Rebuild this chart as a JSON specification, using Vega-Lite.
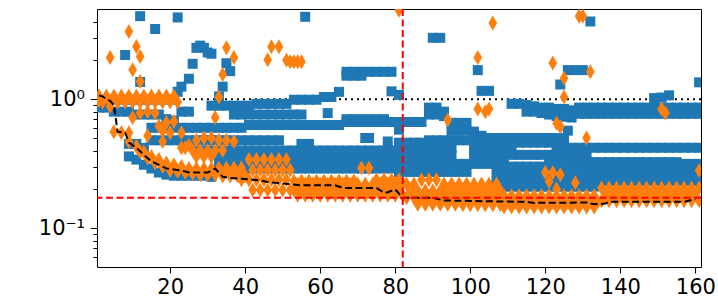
{
"$schema":"https://vega.github.io/schema/vega-lite/v6.json",
"width":604,"height":258,
"autosize":{"type":"none"},
"padding":{"left":97,"top":9,"right":17,"bottom":37},
"background":"white",
"config":{"view":{"stroke":"black","strokeWidth":1},"axis":{"grid":false,"domain":false,"labelFont":"DejaVu Sans","labelFontSize":21,"labelColor":"black","tickColor":"black","tickWidth":1,"title":null}},
"datasets":{
"blue":[
{"x":1,"y":0.99},{"x":3,"y":0.99},{"x":5,"y":0.99},{"x":7,"y":0.99},{"x":9,"y":0.99},{"x":11,"y":0.99},{"x":13,"y":0.99},{"x":15,"y":0.99},{"x":17,"y":0.99},{"x":19,"y":0.99},{"x":21,"y":0.99},
{"x":1,"y":0.86},{"x":3,"y":0.86},{"x":5,"y":0.8},{"x":7,"y":0.8},{"x":9,"y":0.8},
{"x":22,"y":1.14},{"x":23,"y":1.25},{"x":25,"y":1.44},{"x":26,"y":1.88},{"x":27,"y":2.5},{"x":28,"y":2.6},{"x":29,"y":2.5},{"x":30,"y":2.3},{"x":31,"y":2.25},
{"x":33,"y":1.05},{"x":34,"y":1.25},{"x":35,"y":1.9},{"x":36,"y":1.65},
{"x":8,"y":2.2},{"x":12,"y":4.4},{"x":16,"y":3.5},{"x":22,"y":4.3},{"x":12,"y":1.36},{"x":56,"y":4.35},{"x":90,"y":2.99},{"x":92,"y":2.99},{"x":102,"y":1.68},{"x":103,"y":1.16},{"x":105,"y":1.16},{"x":124,"y":1.3},{"x":126,"y":1.68},{"x":128,"y":1.68},{"x":130,"y":1.68},{"x":132,"y":4.0},{"x":126,"y":0.57},{"x":149,"y":1.02},{"x":151,"y":1.03},{"x":153,"y":1.07},{"x":161,"y":1.35},{"x":62,"y":0.78},{"x":72,"y":0.5},{"x":73,"y":0.5},{"x":78,"y":0.47},{"x":79,"y":1.15},{"x":81,"y":1.08},
{"x":11,"y":0.76},{"x":13,"y":0.76},{"x":15,"y":0.76},{"x":17,"y":0.76},{"x":19,"y":0.7},{"x":21,"y":0.68},
{"x":15,"y":0.6},{"x":17,"y":0.6},{"x":19,"y":0.6},{"x":21,"y":0.6},{"x":23,"y":0.6},{"x":25,"y":0.6},
{"x":23,"y":0.8},{"x":25,"y":0.8},
{"x":15,"y":0.48},{"x":17,"y":0.48},{"x":19,"y":0.48},{"x":21,"y":0.48},{"x":23,"y":0.48},{"x":25,"y":0.48},
{"x":9,"y":0.36},{"x":11,"y":0.34},{"x":13,"y":0.31},{"x":15,"y":0.29},{"x":17,"y":0.27},{"x":19,"y":0.26},{"x":21,"y":0.255},{"x":23,"y":0.255},{"x":25,"y":0.255},{"x":27,"y":0.255},{"x":29,"y":0.255},{"x":31,"y":0.25},
{"x":9,"y":0.45},{"x":11,"y":0.45},{"x":13,"y":0.42},
{"x":31,"y":0.89},{"x":33,"y":0.89},{"x":35,"y":0.89},{"x":37,"y":0.89},{"x":39,"y":0.89},{"x":41,"y":0.89},{"x":43,"y":0.92},{"x":45,"y":0.92},{"x":47,"y":0.92},{"x":49,"y":0.92},{"x":51,"y":0.92},{"x":53,"y":0.99},{"x":55,"y":0.99},{"x":57,"y":0.99},{"x":59,"y":0.99},{"x":61,"y":1.04},{"x":63,"y":1.04},{"x":65,"y":1.14},
{"x":67,"y":1.63},{"x":67,"y":1.52},{"x":69,"y":1.63},{"x":69,"y":1.52},{"x":71,"y":1.63},{"x":71,"y":1.52},{"x":73,"y":1.63},{"x":75,"y":1.63},{"x":77,"y":1.63},{"x":79,"y":1.63},
{"x":37,"y":0.76},{"x":39,"y":0.76},{"x":41,"y":0.76},{"x":43,"y":0.76},{"x":45,"y":0.76},{"x":47,"y":0.76},{"x":49,"y":0.76},{"x":51,"y":0.76},{"x":53,"y":0.76},{"x":55,"y":0.76},
{"x":27,"y":0.6},{"x":29,"y":0.6},{"x":31,"y":0.6},{"x":33,"y":0.6},{"x":35,"y":0.6},{"x":37,"y":0.6},{"x":39,"y":0.6},{"x":41,"y":0.63},{"x":43,"y":0.63},{"x":45,"y":0.63},{"x":47,"y":0.63},{"x":49,"y":0.63},{"x":51,"y":0.63},{"x":53,"y":0.63},{"x":55,"y":0.63},{"x":57,"y":0.63},{"x":59,"y":0.63},{"x":61,"y":0.63},{"x":63,"y":0.63},{"x":65,"y":0.63},{"x":67,"y":0.7},{"x":69,"y":0.7},{"x":71,"y":0.7},{"x":73,"y":0.7},{"x":75,"y":0.7},{"x":77,"y":0.7},
{"x":67,"y":0.665},{"x":69,"y":0.665},{"x":71,"y":0.665},{"x":73,"y":0.665},{"x":75,"y":0.665},{"x":77,"y":0.665},{"x":79,"y":0.665},
{"x":27,"y":0.48},{"x":29,"y":0.48},{"x":31,"y":0.48},{"x":33,"y":0.48},{"x":35,"y":0.48},{"x":37,"y":0.48},{"x":39,"y":0.48},{"x":41,"y":0.48},{"x":43,"y":0.48},{"x":45,"y":0.48},{"x":47,"y":0.48},{"x":49,"y":0.48},{"x":55,"y":0.45},{"x":57,"y":0.45},
{"x":27,"y":0.4},{"x":29,"y":0.4},{"x":31,"y":0.4},{"x":33,"y":0.4},{"x":35,"y":0.4},{"x":37,"y":0.4},{"x":39,"y":0.4},{"x":41,"y":0.4},{"x":43,"y":0.4},{"x":45,"y":0.4},{"x":47,"y":0.4},{"x":49,"y":0.4},{"x":51,"y":0.4},{"x":53,"y":0.4},{"x":55,"y":0.4},{"x":57,"y":0.4},{"x":59,"y":0.4},{"x":61,"y":0.4},{"x":63,"y":0.4},{"x":65,"y":0.4},{"x":67,"y":0.4},{"x":69,"y":0.4},{"x":71,"y":0.4},{"x":73,"y":0.4},{"x":75,"y":0.4},{"x":77,"y":0.4},{"x":79,"y":0.4},{"x":81,"y":0.4},
{"x":33,"y":0.34},{"x":35,"y":0.34},{"x":37,"y":0.34},{"x":39,"y":0.34},{"x":41,"y":0.34},{"x":43,"y":0.34},{"x":45,"y":0.34},{"x":47,"y":0.34},{"x":49,"y":0.34},{"x":51,"y":0.34},{"x":53,"y":0.34},{"x":55,"y":0.34},{"x":57,"y":0.34},{"x":59,"y":0.34},{"x":61,"y":0.34},{"x":63,"y":0.34},{"x":65,"y":0.34},{"x":67,"y":0.34},{"x":69,"y":0.34},{"x":71,"y":0.34},{"x":73,"y":0.34},{"x":75,"y":0.34},{"x":77,"y":0.34},{"x":79,"y":0.34},{"x":81,"y":0.34},
{"x":33,"y":0.29},{"x":35,"y":0.29},{"x":37,"y":0.29},{"x":39,"y":0.29},{"x":41,"y":0.29},{"x":43,"y":0.29},{"x":45,"y":0.29},{"x":47,"y":0.29},{"x":49,"y":0.29},{"x":51,"y":0.29},{"x":53,"y":0.29},{"x":55,"y":0.29},{"x":57,"y":0.29},{"x":59,"y":0.29},{"x":61,"y":0.29},{"x":63,"y":0.29},{"x":65,"y":0.29},{"x":67,"y":0.29},{"x":69,"y":0.29},{"x":71,"y":0.29},{"x":73,"y":0.29},{"x":75,"y":0.29},{"x":77,"y":0.29},{"x":79,"y":0.29},{"x":81,"y":0.29},
{"x":81,"y":0.665},{"x":83,"y":0.665},{"x":85,"y":0.665},{"x":87,"y":0.665},{"x":89,"y":0.86},{"x":91,"y":0.86},{"x":93,"y":0.8},{"x":95,"y":0.655},{"x":97,"y":0.655},{"x":99,"y":0.655},{"x":101,"y":0.56},{"x":103,"y":0.52},{"x":105,"y":0.5},{"x":107,"y":0.5},
{"x":81,"y":0.58},{"x":89,"y":0.76},{"x":91,"y":0.76},{"x":93,"y":0.74},{"x":95,"y":0.57},{"x":97,"y":0.57},{"x":99,"y":0.57},
{"x":111,"y":0.92},{"x":113,"y":0.92},{"x":115,"y":0.9},{"x":117,"y":0.88},{"x":119,"y":0.86},{"x":121,"y":0.86},{"x":123,"y":0.84},{"x":125,"y":0.84},{"x":127,"y":0.82},{"x":129,"y":0.86},{"x":131,"y":0.86},{"x":133,"y":0.86},{"x":135,"y":0.86},{"x":137,"y":0.86},{"x":139,"y":0.86},{"x":141,"y":0.86},{"x":143,"y":0.86},{"x":145,"y":0.86},{"x":147,"y":0.86},{"x":149,"y":0.86},{"x":151,"y":0.86},{"x":153,"y":0.86},{"x":155,"y":0.86},{"x":157,"y":0.86},{"x":159,"y":0.86},{"x":161,"y":0.86},
{"x":115,"y":0.8},{"x":117,"y":0.8},{"x":119,"y":0.78},{"x":121,"y":0.76},{"x":123,"y":0.74},{"x":125,"y":0.73},{"x":127,"y":0.72},{"x":129,"y":0.77},{"x":131,"y":0.77},{"x":133,"y":0.77},{"x":135,"y":0.77},{"x":137,"y":0.77},{"x":139,"y":0.77},{"x":141,"y":0.77},{"x":143,"y":0.77},{"x":145,"y":0.77},{"x":147,"y":0.77},{"x":149,"y":0.77},{"x":151,"y":0.77},{"x":153,"y":0.77},{"x":155,"y":0.77},{"x":157,"y":0.77},{"x":159,"y":0.77},{"x":161,"y":0.77},
{"x":81,"y":0.46},{"x":83,"y":0.46},{"x":85,"y":0.46},{"x":87,"y":0.46},{"x":89,"y":0.48},{"x":91,"y":0.48},{"x":93,"y":0.48},{"x":95,"y":0.48},{"x":97,"y":0.48},{"x":99,"y":0.48},{"x":101,"y":0.48},{"x":103,"y":0.48},{"x":105,"y":0.48},{"x":107,"y":0.48},{"x":109,"y":0.5},{"x":111,"y":0.5},{"x":113,"y":0.5},{"x":115,"y":0.5},{"x":117,"y":0.5},{"x":119,"y":0.5},{"x":121,"y":0.5},{"x":123,"y":0.5},{"x":125,"y":0.5},
{"x":81,"y":0.42},{"x":83,"y":0.42},{"x":85,"y":0.42},{"x":87,"y":0.42},{"x":89,"y":0.42},{"x":91,"y":0.42},{"x":93,"y":0.42},{"x":95,"y":0.42},{"x":101,"y":0.42},{"x":103,"y":0.42},{"x":105,"y":0.42},{"x":107,"y":0.42},{"x":109,"y":0.42},{"x":111,"y":0.42},{"x":113,"y":0.46},{"x":115,"y":0.46},{"x":117,"y":0.46},{"x":119,"y":0.46},{"x":121,"y":0.46},{"x":123,"y":0.42},{"x":125,"y":0.42},{"x":127,"y":0.42},{"x":129,"y":0.42},{"x":131,"y":0.42},{"x":133,"y":0.42},{"x":135,"y":0.42},{"x":137,"y":0.42},{"x":139,"y":0.42},{"x":141,"y":0.42},{"x":143,"y":0.42},{"x":145,"y":0.42},{"x":147,"y":0.42},{"x":149,"y":0.42},{"x":151,"y":0.42},{"x":153,"y":0.42},{"x":155,"y":0.42},{"x":157,"y":0.42},{"x":159,"y":0.42},{"x":161,"y":0.42},
{"x":81,"y":0.37},{"x":83,"y":0.37},{"x":85,"y":0.37},{"x":87,"y":0.37},{"x":89,"y":0.37},{"x":91,"y":0.37},{"x":93,"y":0.37},{"x":95,"y":0.37},{"x":101,"y":0.37},{"x":103,"y":0.37},{"x":105,"y":0.37},{"x":107,"y":0.37},{"x":109,"y":0.37},{"x":111,"y":0.37},{"x":113,"y":0.37},{"x":115,"y":0.37},{"x":117,"y":0.37},{"x":119,"y":0.37},{"x":121,"y":0.37},{"x":123,"y":0.37},{"x":125,"y":0.37},{"x":127,"y":0.37},{"x":129,"y":0.37},{"x":131,"y":0.37},
{"x":81,"y":0.315},{"x":83,"y":0.315},{"x":85,"y":0.315},{"x":87,"y":0.315},{"x":89,"y":0.315},{"x":91,"y":0.315},{"x":93,"y":0.315},{"x":95,"y":0.315},{"x":97,"y":0.315},{"x":99,"y":0.315},{"x":101,"y":0.315},{"x":103,"y":0.315},{"x":105,"y":0.315},{"x":107,"y":0.315},{"x":109,"y":0.315},{"x":111,"y":0.3},{"x":113,"y":0.3},{"x":115,"y":0.3},{"x":117,"y":0.3},{"x":119,"y":0.3},{"x":121,"y":0.315},{"x":123,"y":0.315},{"x":125,"y":0.315},{"x":127,"y":0.315},{"x":129,"y":0.315},{"x":131,"y":0.315},{"x":133,"y":0.325},{"x":135,"y":0.325},{"x":137,"y":0.325},{"x":139,"y":0.325},{"x":141,"y":0.325},{"x":143,"y":0.325},{"x":145,"y":0.325},{"x":147,"y":0.325},{"x":149,"y":0.325},{"x":151,"y":0.325},{"x":153,"y":0.325},{"x":155,"y":0.325},{"x":157,"y":0.315},{"x":159,"y":0.315},{"x":161,"y":0.315},
{"x":81,"y":0.273},{"x":83,"y":0.273},{"x":85,"y":0.273},{"x":87,"y":0.273},{"x":89,"y":0.273},{"x":91,"y":0.273},{"x":93,"y":0.273},{"x":95,"y":0.273},{"x":97,"y":0.273},{"x":99,"y":0.273},{"x":107,"y":0.273},{"x":109,"y":0.273},{"x":111,"y":0.273},{"x":113,"y":0.273},{"x":115,"y":0.273},{"x":117,"y":0.273},{"x":119,"y":0.273},{"x":121,"y":0.273},{"x":123,"y":0.273},{"x":125,"y":0.273},{"x":127,"y":0.273},{"x":129,"y":0.273},{"x":131,"y":0.273},{"x":133,"y":0.273},{"x":135,"y":0.273},{"x":137,"y":0.273},{"x":139,"y":0.273},{"x":141,"y":0.273},{"x":143,"y":0.273},{"x":145,"y":0.273},{"x":147,"y":0.273},{"x":149,"y":0.273},{"x":151,"y":0.273},{"x":153,"y":0.273},{"x":155,"y":0.273},{"x":157,"y":0.273},{"x":159,"y":0.273},{"x":161,"y":0.273},
{"x":107,"y":0.232},{"x":109,"y":0.232},{"x":111,"y":0.232},{"x":113,"y":0.232},{"x":115,"y":0.232},{"x":117,"y":0.232},{"x":119,"y":0.232},{"x":121,"y":0.232},{"x":123,"y":0.232},{"x":125,"y":0.232},{"x":127,"y":0.232},{"x":129,"y":0.232},{"x":131,"y":0.232},{"x":133,"y":0.232},{"x":135,"y":0.232},{"x":137,"y":0.232},{"x":139,"y":0.232},{"x":141,"y":0.232},{"x":143,"y":0.232},{"x":145,"y":0.232},{"x":147,"y":0.232},{"x":149,"y":0.232},{"x":151,"y":0.232},{"x":153,"y":0.232},{"x":155,"y":0.232},{"x":157,"y":0.232},{"x":159,"y":0.232},{"x":161,"y":0.232},
{"x":107,"y":0.21},{"x":109,"y":0.21},{"x":111,"y":0.21},{"x":113,"y":0.21},{"x":115,"y":0.21},{"x":117,"y":0.21},{"x":119,"y":0.21},{"x":121,"y":0.21},{"x":123,"y":0.21},{"x":125,"y":0.21},{"x":127,"y":0.21},{"x":129,"y":0.21},{"x":131,"y":0.21},{"x":133,"y":0.21}
],
"orange":[
{"x":1,"y":1.06},{"x":3,"y":1.06},{"x":5,"y":1.06},{"x":7,"y":1.06},{"x":9,"y":1.06},{"x":11,"y":1.06},{"x":13,"y":1.06},{"x":15,"y":1.06},{"x":17,"y":1.06},{"x":19,"y":1.06},{"x":21,"y":1.06},
{"x":2,"y":0.95},{"x":4,"y":0.95},{"x":6,"y":0.95},{"x":8,"y":0.95},{"x":10,"y":0.95},{"x":12,"y":0.95},{"x":14,"y":0.95},{"x":16,"y":0.95},{"x":18,"y":0.95},{"x":20,"y":0.95},{"x":22,"y":0.95},{"x":1,"y":0.97},
{"x":5,"y":0.56},{"x":7,"y":0.55},{"x":9,"y":0.55},{"x":9,"y":0.47},{"x":11,"y":0.43},{"x":13,"y":0.39},{"x":15,"y":0.36},{"x":17,"y":0.34},{"x":19,"y":0.32},{"x":21,"y":0.31},{"x":23,"y":0.3},{"x":25,"y":0.29},{"x":27,"y":0.29},{"x":29,"y":0.29},{"x":31,"y":0.29},
{"x":12,"y":0.39},{"x":14,"y":0.35},{"x":16,"y":0.32},{"x":18,"y":0.3},{"x":20,"y":0.28},{"x":22,"y":0.275},{"x":24,"y":0.27},{"x":26,"y":0.265},{"x":28,"y":0.26},{"x":30,"y":0.26},{"x":32,"y":0.26},
{"x":10,"y":0.72},{"x":12,"y":0.78},{"x":14,"y":0.8},{"x":16,"y":0.78},{"x":14,"y":0.52},{"x":17,"y":0.62},{"x":18,"y":0.57},{"x":18,"y":0.47},{"x":19,"y":0.66},{"x":20,"y":0.55},{"x":21,"y":0.67},{"x":23,"y":0.55},{"x":24,"y":0.42},{"x":4,"y":0.88},
{"x":23,"y":0.42},{"x":25,"y":0.44},{"x":27,"y":0.48},{"x":29,"y":0.5},{"x":31,"y":0.5},{"x":33,"y":0.48},{"x":35,"y":0.48},{"x":37,"y":0.47},
{"x":26,"y":0.4},{"x":28,"y":0.4},{"x":30,"y":0.4},{"x":32,"y":0.4},{"x":34,"y":0.4},{"x":27,"y":0.36},{"x":29,"y":0.36},{"x":31,"y":0.36},
{"x":4,"y":2.1},{"x":9,"y":3.34},{"x":11,"y":2.56},{"x":12,"y":2.14},{"x":10,"y":1.69},{"x":12,"y":1.37},{"x":35,"y":2.5},{"x":37,"y":2.1},{"x":34,"y":1.55},{"x":33,"y":1.04},{"x":32,"y":0.72},{"x":46,"y":2.02},{"x":47,"y":2.55},{"x":49,"y":2.55},{"x":51,"y":2.0},{"x":52,"y":1.95},{"x":53,"y":1.95},{"x":54,"y":1.95},{"x":55,"y":1.95},
{"x":33,"y":0.293},{"x":35,"y":0.293},{"x":37,"y":0.293},{"x":39,"y":0.293},{"x":41,"y":0.34},{"x":43,"y":0.34},{"x":45,"y":0.34},{"x":47,"y":0.34},{"x":49,"y":0.34},{"x":51,"y":0.34},{"x":53,"y":0.232},{"x":55,"y":0.232},{"x":57,"y":0.232},{"x":59,"y":0.232},{"x":61,"y":0.232},{"x":63,"y":0.232},{"x":65,"y":0.232},{"x":67,"y":0.232},{"x":69,"y":0.232},{"x":71,"y":0.293},{"x":73,"y":0.293},{"x":75,"y":0.237},{"x":77,"y":0.237},{"x":79,"y":0.237},{"x":81,"y":0.237},
{"x":34,"y":0.254},{"x":36,"y":0.254},{"x":38,"y":0.254},{"x":40,"y":0.254},{"x":42,"y":0.283},{"x":44,"y":0.283},{"x":46,"y":0.283},{"x":48,"y":0.283},{"x":50,"y":0.283},{"x":52,"y":0.283},{"x":54,"y":0.22},{"x":56,"y":0.22},{"x":58,"y":0.22},{"x":60,"y":0.22},{"x":62,"y":0.22},{"x":64,"y":0.22},{"x":66,"y":0.22},{"x":68,"y":0.22},{"x":70,"y":0.22},{"x":72,"y":0.22},{"x":74,"y":0.22},{"x":76,"y":0.22},{"x":78,"y":0.22},{"x":80,"y":0.22},{"x":82,"y":0.22},
{"x":39,"y":0.237},{"x":41,"y":0.237},{"x":43,"y":0.237},{"x":45,"y":0.237},{"x":47,"y":0.237},{"x":49,"y":0.237},{"x":51,"y":0.237},{"x":53,"y":0.198},{"x":55,"y":0.198},{"x":57,"y":0.198},{"x":59,"y":0.198},{"x":61,"y":0.198},{"x":63,"y":0.198},{"x":65,"y":0.198},{"x":67,"y":0.198},{"x":69,"y":0.198},{"x":71,"y":0.198},{"x":73,"y":0.198},{"x":75,"y":0.198},{"x":77,"y":0.198},{"x":79,"y":0.198},{"x":81,"y":0.198},
{"x":42,"y":0.198},{"x":44,"y":0.198},{"x":46,"y":0.198},{"x":48,"y":0.198},{"x":50,"y":0.198},{"x":52,"y":0.198},{"x":54,"y":0.18},{"x":56,"y":0.18},{"x":58,"y":0.18},{"x":60,"y":0.18},{"x":62,"y":0.18},{"x":64,"y":0.18},{"x":66,"y":0.18},{"x":68,"y":0.18},{"x":70,"y":0.18},{"x":72,"y":0.18},{"x":74,"y":0.18},{"x":76,"y":0.18},{"x":78,"y":0.18},{"x":80,"y":0.18},{"x":82,"y":0.18},
{"x":83,"y":0.22},{"x":85,"y":0.22},{"x":87,"y":0.237},{"x":89,"y":0.237},{"x":91,"y":0.237},{"x":93,"y":0.22},{"x":95,"y":0.22},{"x":97,"y":0.22},{"x":99,"y":0.22},{"x":101,"y":0.22},{"x":103,"y":0.22},{"x":105,"y":0.22},{"x":107,"y":0.22},
{"x":84,"y":0.195},{"x":86,"y":0.195},{"x":88,"y":0.195},{"x":90,"y":0.195},{"x":92,"y":0.195},{"x":94,"y":0.195},{"x":96,"y":0.195},{"x":98,"y":0.195},{"x":100,"y":0.195},{"x":102,"y":0.195},{"x":104,"y":0.195},{"x":106,"y":0.195},{"x":108,"y":0.195},
{"x":83,"y":0.172},{"x":85,"y":0.172},{"x":87,"y":0.172},{"x":89,"y":0.172},{"x":91,"y":0.172},{"x":93,"y":0.172},{"x":95,"y":0.172},{"x":97,"y":0.172},{"x":99,"y":0.172},{"x":101,"y":0.172},{"x":103,"y":0.172},{"x":105,"y":0.172},{"x":107,"y":0.172},
{"x":86,"y":0.153},{"x":88,"y":0.153},{"x":90,"y":0.153},{"x":92,"y":0.153},{"x":94,"y":0.153},{"x":96,"y":0.153},{"x":98,"y":0.152},{"x":100,"y":0.152},{"x":102,"y":0.152},{"x":104,"y":0.152},{"x":106,"y":0.152},{"x":108,"y":0.152},
{"x":109,"y":0.178},{"x":111,"y":0.178},{"x":113,"y":0.178},{"x":115,"y":0.178},{"x":117,"y":0.178},{"x":119,"y":0.178},{"x":121,"y":0.178},{"x":123,"y":0.178},{"x":125,"y":0.178},{"x":127,"y":0.178},{"x":129,"y":0.178},{"x":131,"y":0.178},{"x":133,"y":0.178},
{"x":110,"y":0.16},{"x":112,"y":0.16},{"x":114,"y":0.16},{"x":116,"y":0.16},{"x":118,"y":0.16},{"x":120,"y":0.16},{"x":122,"y":0.16},{"x":124,"y":0.16},{"x":126,"y":0.16},{"x":128,"y":0.16},{"x":130,"y":0.16},{"x":132,"y":0.16},{"x":134,"y":0.16},
{"x":109,"y":0.146},{"x":111,"y":0.146},{"x":113,"y":0.146},{"x":115,"y":0.146},{"x":117,"y":0.146},{"x":119,"y":0.146},{"x":121,"y":0.146},{"x":123,"y":0.146},{"x":125,"y":0.146},{"x":127,"y":0.146},{"x":129,"y":0.146},{"x":131,"y":0.146},{"x":133,"y":0.146},
{"x":135,"y":0.205},{"x":137,"y":0.205},{"x":139,"y":0.205},{"x":141,"y":0.205},{"x":143,"y":0.205},{"x":145,"y":0.205},{"x":147,"y":0.205},{"x":149,"y":0.205},{"x":151,"y":0.205},{"x":153,"y":0.205},{"x":155,"y":0.205},{"x":157,"y":0.205},{"x":159,"y":0.205},{"x":161,"y":0.205},
{"x":136,"y":0.18},{"x":138,"y":0.18},{"x":140,"y":0.18},{"x":142,"y":0.18},{"x":144,"y":0.18},{"x":146,"y":0.18},{"x":148,"y":0.18},{"x":150,"y":0.18},{"x":152,"y":0.18},{"x":154,"y":0.18},{"x":156,"y":0.18},{"x":158,"y":0.18},{"x":160,"y":0.18},
{"x":135,"y":0.163},{"x":137,"y":0.163},{"x":139,"y":0.163},{"x":141,"y":0.163},{"x":143,"y":0.163},{"x":145,"y":0.163},{"x":147,"y":0.163},{"x":149,"y":0.163},{"x":151,"y":0.163},{"x":153,"y":0.163},{"x":155,"y":0.163},{"x":157,"y":0.163},{"x":159,"y":0.163},{"x":161,"y":0.163},
{"x":81,"y":4.9},{"x":94,"y":0.69},{"x":102,"y":2.1},{"x":102,"y":0.84},{"x":104,"y":0.8},{"x":105,"y":0.84},{"x":106,"y":3.9},{"x":122,"y":1.91},{"x":129,"y":4.4},{"x":130,"y":4.4},{"x":132,"y":1.63},{"x":125,"y":1.04},{"x":125,"y":1.45},{"x":123,"y":0.65},{"x":124,"y":0.61},{"x":131,"y":0.5},{"x":120,"y":0.27},{"x":122,"y":0.27},{"x":124,"y":0.26},{"x":121,"y":0.23},{"x":123,"y":0.2},{"x":128,"y":0.225},{"x":151,"y":0.84},{"x":152,"y":0.78},{"x":161,"y":0.28}
],
"line":[
{"x":1,"y":1.07},{"x":2,"y":1.05},{"x":3,"y":1.0},{"x":4,"y":0.97},{"x":5,"y":0.9},{"x":6,"y":0.56},{"x":8,"y":0.55},{"x":9,"y":0.46},{"x":10,"y":0.44},{"x":11,"y":0.42},{"x":13,"y":0.37},{"x":15,"y":0.33},{"x":17,"y":0.31},{"x":19,"y":0.29},{"x":21,"y":0.285},{"x":23,"y":0.28},{"x":25,"y":0.27},{"x":30,"y":0.27},{"x":32,"y":0.29},{"x":34,"y":0.25},{"x":36,"y":0.245},{"x":40,"y":0.24},{"x":44,"y":0.235},{"x":46,"y":0.228},{"x":48,"y":0.225},{"x":55,"y":0.215},{"x":64,"y":0.215},{"x":66,"y":0.205},{"x":75,"y":0.205},{"x":77,"y":0.188},{"x":78,"y":0.19},{"x":80,"y":0.2},{"x":81,"y":0.185},{"x":82,"y":0.172},{"x":90,"y":0.172},{"x":93,"y":0.164},{"x":108,"y":0.161},{"x":115,"y":0.16},{"x":117,"y":0.157},{"x":131,"y":0.158},{"x":133,"y":0.153},{"x":136,"y":0.155},{"x":137,"y":0.16},{"x":157,"y":0.16},{"x":160,"y":0.168}
],
"one":[{"v":1}]
},
"layer":[
{"data":{"name":"one"},
 "mark":{"type":"rule","color":"black","strokeWidth":2,"strokeDash":[2,4]},
 "encoding":{"y":{"datum":1,"type":"quantitative","scale":{"type":"log","domain":[0.05,5],"nice":false}}}},
{"data":{"name":"blue"},
 "mark":{"type":"point","shape":"square","filled":true,"size":100,"color":"#1f77b4","opacity":1,"clip":true},
 "encoding":{
  "x":{"field":"x","type":"quantitative","scale":{"domain":[0.5,161.5],"nice":false,"zero":false},
       "axis":{"values":[20,40,60,80,100,120,140,160],"tickSize":6,"labelPadding":3,"labelFlush":false,"labelOverlap":false}},
  "y":{"field":"y","type":"quantitative","scale":{"type":"log","domain":[0.05,5],"nice":false},
       "axis":{"values":[0.06,0.07,0.08,0.09,0.1,0.2,0.3,0.4,0.5,0.6,0.7,0.8,0.9,1,2,3,4],
               "labelExpr":"datum.value == 1 ? '10⁰' : (datum.value == 0.1 ? '10⁻¹' : '')",
               "tickSize":{"condition":{"test":"datum.value == 1 || datum.value == 0.1","value":6.5},"value":4},
               "labelPadding":6,"labelOverlap":false,"labelFlush":false}}}},
{"data":{"name":"orange"},
 "mark":{"type":"point","shape":"M0,-1L0.58,0L0,1L-0.58,0Z","filled":true,"size":225,"color":"#ff7f0e","opacity":1,"clip":true},
 "encoding":{
  "x":{"field":"x","type":"quantitative","scale":{"domain":[0.5,161.5],"nice":false,"zero":false}},
  "y":{"field":"y","type":"quantitative","scale":{"type":"log","domain":[0.05,5],"nice":false}}}},
{"data":{"name":"line"},
 "mark":{"type":"line","color":"black","strokeWidth":2,"strokeDash":[7,3.5]},
 "encoding":{
  "x":{"field":"x","type":"quantitative","scale":{"domain":[0.5,161.5],"nice":false,"zero":false}},
  "y":{"field":"y","type":"quantitative","scale":{"type":"log","domain":[0.05,5],"nice":false}}}},
{"data":{"name":"one"},
 "mark":{"type":"rule","color":"#ff0000","strokeWidth":2,"strokeDash":[7,3.5]},
 "encoding":{"y":{"datum":0.172,"type":"quantitative","scale":{"type":"log","domain":[0.05,5],"nice":false}}}},
{"data":{"name":"one"},
 "mark":{"type":"rule","color":"#ff0000","strokeWidth":2,"strokeDash":[7,3.5]},
 "encoding":{"x":{"datum":82,"type":"quantitative","scale":{"domain":[0.5,161.5],"nice":false,"zero":false}}}}
]
}
